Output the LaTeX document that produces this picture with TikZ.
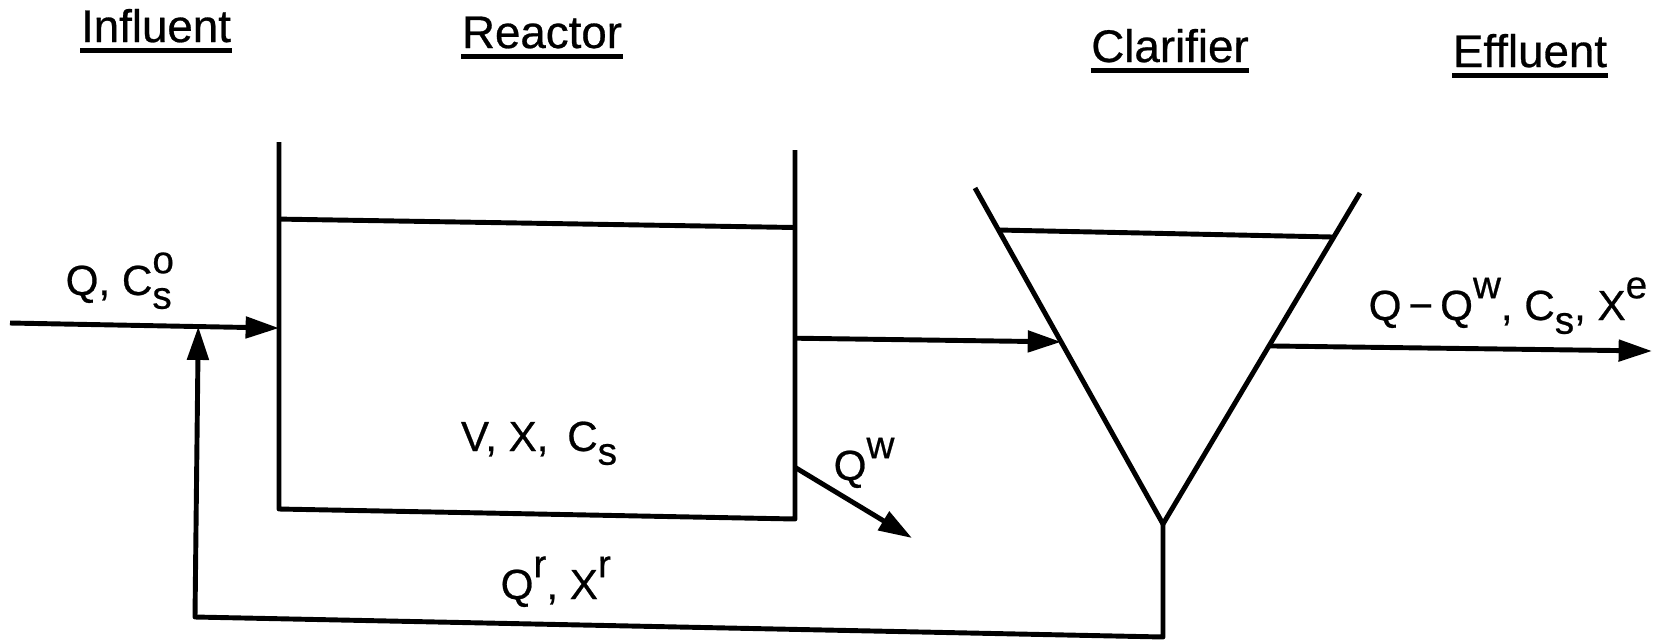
\documentclass[tikz,border=0pt]{standalone}
\usepackage{fontspec}
\setmainfont[FakeBold=0.6]{Liberation Sans}
\usetikzlibrary{arrows.meta,calc}

% raised and lowered indices in the lettering font
\newcommand{\hi}[1]{\raisebox{6.2pt}{\fontsize{11}{11}\selectfont #1}}
\newcommand{\lo}[1]{\raisebox{-3.9pt}{\fontsize{11}{11}\selectfont #1}}

\begin{document}
\begin{tikzpicture}[x=1cm, y=-1cm,
  wall/.style={line width=1.4pt, line join=round},
  flow/.style={line width=1.4pt, line join=round, -{Triangle[length=9.5pt, width=6pt]}},
  title/.style={font=\fontsize{13}{13}\selectfont, anchor=base, inner sep=0pt},
  lbl/.style={font=\fontsize{12}{12}\selectfont, anchor=base west, inner sep=0pt},
  uline/.style={line width=1.5pt}
]
  \useasboundingbox (0,0) rectangle (16.53,6.40);

  % headings
  \node[title] (tin) at (1.56,0.42)  {Influent};
  \node[title] (trc) at (5.42,0.48)  {Reactor};
  \node[title] (tcl) at (11.70,0.62) {Clarifier};
  \node[title] (tef) at (15.30,0.67) {Effluent};
  \foreach \t in {tin,trc,tcl,tef}
    \draw[uline] ([yshift=-2.4pt]\t.base west) -- ([yshift=-2.4pt]\t.base east);

  % reactor tank
  \coordinate (rtl) at (2.79,1.42);
  \coordinate (rbl) at (2.79,5.09);
  \coordinate (rbr) at (7.95,5.19);
  \coordinate (rtr) at (7.95,1.50);
  \draw[wall] (rtl) -- (rbl) -- (rbr) -- (rtr);
  \draw[wall] ($(rtl)!0.21!(rbl)$) -- ($(rtr)!0.21!(rbr)$);

  % clarifier cone
  \coordinate (ctl) at (9.75,1.88);
  \coordinate (ctr) at (13.60,1.93);
  \coordinate (cbt) at (11.63,5.24);
  \draw[wall] (ctl) -- (cbt) -- (ctr);
  \draw[wall] ($(ctl)!0.125!(cbt)$) -- ($(ctr)!0.133!(cbt)$);

  % flow points
  \coordinate (feed) at (0.10,3.23);
  \coordinate (rin)  at ($(rtl)!0.507!(rbl)$);
  \coordinate (mix)  at ($(feed)!0.70!(rin)$);
  \coordinate (rout) at ($(rtr)!0.51!(rbr)$);
  \coordinate (cin)  at ($(ctl)!0.458!(cbt)$);
  \coordinate (wst)  at ($(rtr)!0.86!(rbr)$);
  \coordinate (wend) at (9.12,5.38);
  \coordinate (cout) at ($(ctr)!0.462!(cbt)$);
  \coordinate (eff)  at (16.52,3.51);
  \coordinate (rcr)  at (11.63,6.37);
  \coordinate (rcl)  at (1.95,6.17);

  \draw[flow] (feed) -- (rin);
  \draw[flow] (rout) -- (cin);
  \draw[flow] (wst) -- (wend);
  \draw[flow] (cout) -- (eff);
  \draw[flow] (cbt) -- (rcr) -- (rcl) -- (mix);

  % stream labels
  \node[lbl] (lin)  at (0.65,2.95)  {Q, C\rlap{\lo{s}}\hi{o}};
  \node[lbl, anchor=base] (lrc) at (5.39,4.51) {V, X,\, C\lo{s}};
  \node[lbl] (lw)   at (8.33,4.80)  {Q\hi{w}};
  \node[lbl] (lef)  at (13.68,3.20) {Q\,−\,Q\hi{w}, C\lo{s}, X\hi{e}};
  \node[lbl] (lrec) at (5.00,5.99)  {Q\hi{r}, X\hi{r}};
\end{tikzpicture}
\end{document}
